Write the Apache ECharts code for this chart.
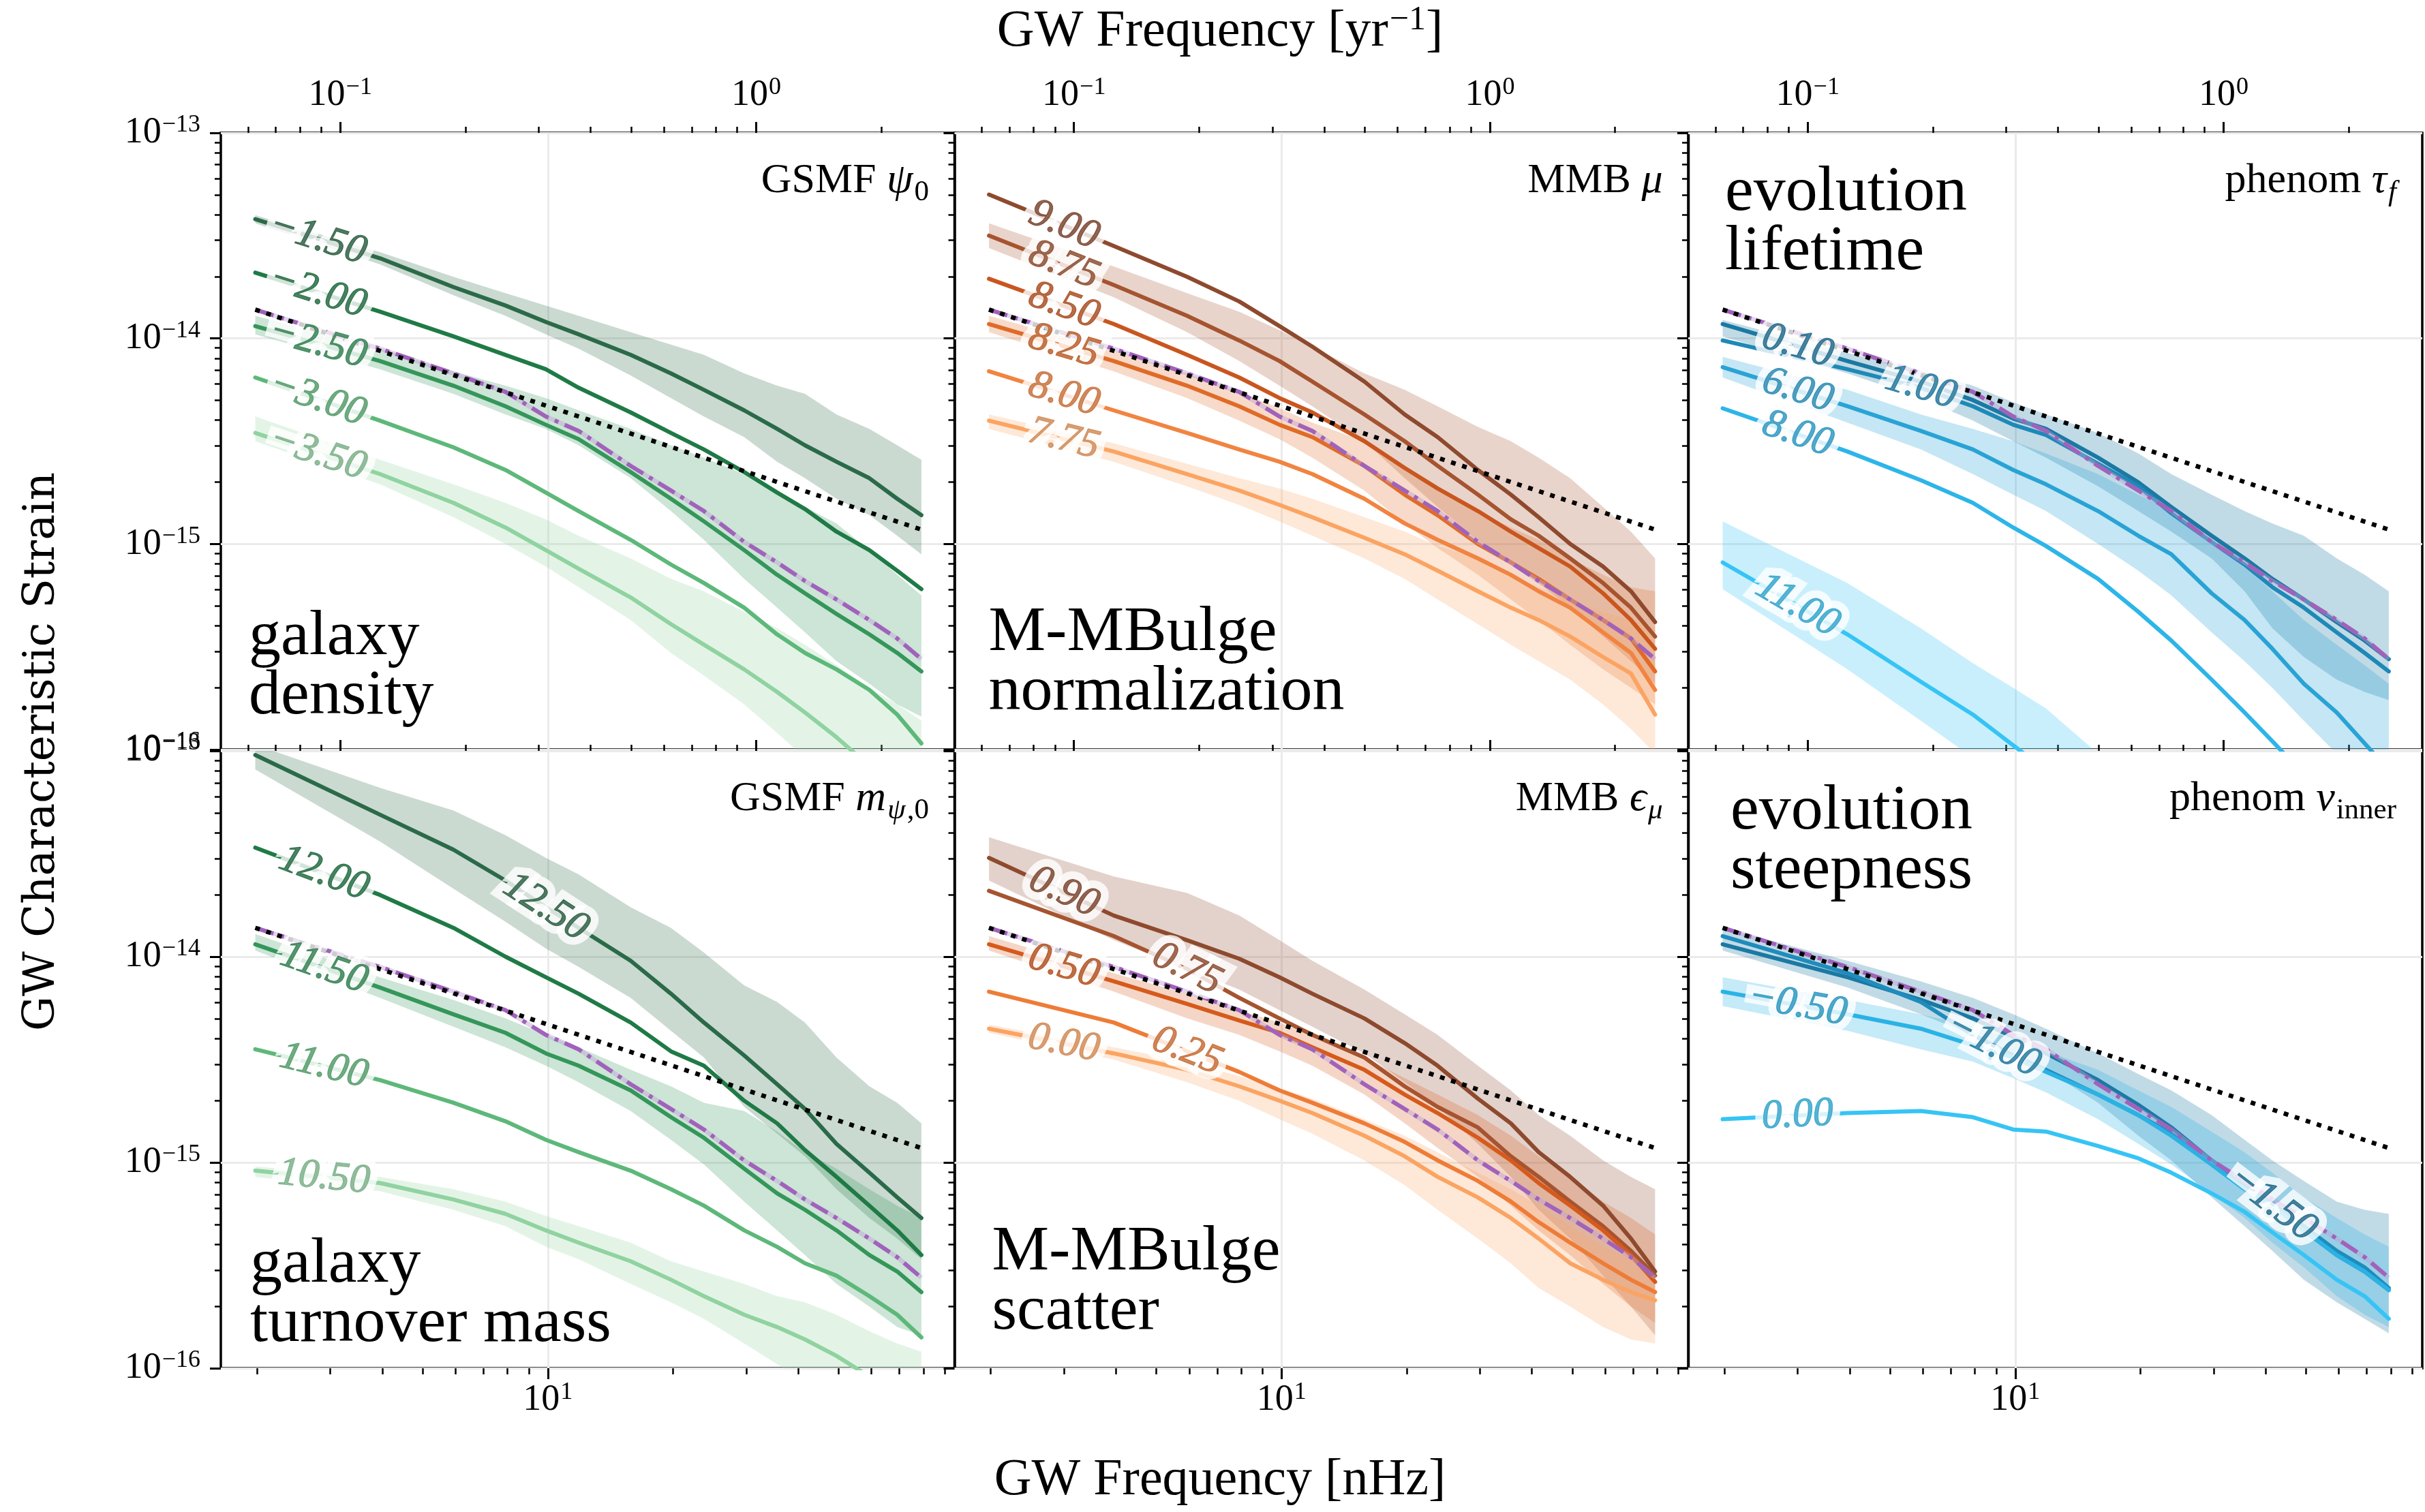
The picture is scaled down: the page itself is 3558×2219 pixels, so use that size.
<!DOCTYPE html>
<html>
<head>
<meta charset="utf-8">
<script src="https://cdn.jsdelivr.net/npm/echarts@6/dist/echarts.min.js"></script>
<style>
  html, body { margin: 0; padding: 0; background: #fff; }
  #chart { width: 3558px; height: 2219px; }
</style>
</head>
<body>
<div id="chart"></div>
<script>
// ---------------------------------------------------------------------------
// Data: GW characteristic strain spectra, sampled at PTA frequency bins (nHz).
// All strain arrays hold log10(h_c); bands are the 68% spread (LO / HI).
// ---------------------------------------------------------------------------
const FREQ = [1.98, 3.95, 5.93, 7.91, 9.89, 11.86, 15.82, 19.77, 23.73, 29.66, 35.59, 41.52, 49.43, 59.31, 69.20, 79.09];

// fiducial model (median) and the reference power law (end points)
const FIDUCIAL = [-13.86, -14.05, -14.17, -14.26, -14.38, -14.45, -14.62, -14.74, -14.84, -14.99, -15.09, -15.18, -15.27, -15.37, -15.46, -15.56];
const POWER_LAW_FREQ = [1.98, 79.09];
const POWER_LAW = [-13.86, -14.93];

// GSMF psi_0
const PSI0_M150 = [-13.42, -13.61, -13.75, -13.84, -13.92, -13.98, -14.08, -14.17, -14.25, -14.35, -14.44, -14.52, -14.60, -14.68, -14.78, -14.86];
const PSI0_M150_HI = [-13.40, -13.58, -13.70, -13.78, -13.84, -13.89, -13.97, -14.03, -14.08, -14.17, -14.23, -14.27, -14.37, -14.44, -14.52, -14.59];
const PSI0_M150_LO = [-13.44, -13.64, -13.79, -13.89, -13.98, -14.05, -14.18, -14.29, -14.38, -14.48, -14.60, -14.68, -14.78, -14.86, -14.96, -15.05];
const PSI0_M200 = [-13.68, -13.87, -13.99, -14.08, -14.15, -14.24, -14.36, -14.46, -14.54, -14.65, -14.75, -14.83, -14.94, -15.03, -15.13, -15.22];
const PSI0_M250 = [-13.94, -14.11, -14.23, -14.33, -14.42, -14.49, -14.65, -14.78, -14.89, -15.03, -15.15, -15.24, -15.34, -15.44, -15.53, -15.62];
const PSI0_M250_HI = [-13.89, -14.05, -14.16, -14.23, -14.29, -14.35, -14.44, -14.52, -14.58, -14.66, -14.74, -14.82, -14.90, -15.03, -15.15, -15.25];
const PSI0_M250_LO = [-13.98, -14.15, -14.27, -14.37, -14.44, -14.52, -14.68, -14.84, -14.98, -15.17, -15.31, -15.43, -15.57, -15.68, -15.78, -15.84];
const PSI0_M300 = [-14.19, -14.40, -14.53, -14.64, -14.75, -14.84, -14.98, -15.10, -15.19, -15.31, -15.44, -15.53, -15.61, -15.71, -15.83, -15.97];
const PSI0_M350 = [-14.46, -14.66, -14.80, -14.92, -15.03, -15.12, -15.26, -15.39, -15.49, -15.61, -15.72, -15.82, -15.94, -16.08, -16.19, -16.31];
const PSI0_M350_HI = [-14.38, -14.59, -14.71, -14.80, -14.88, -14.96, -15.07, -15.17, -15.23, -15.33, -15.41, -15.49, -15.59, -15.70, -15.78, -15.86];
const PSI0_M350_LO = [-14.50, -14.71, -14.87, -15.00, -15.11, -15.21, -15.37, -15.53, -15.64, -15.78, -15.92, -16.04, -16.17, -16.29, -16.41, -16.49];

// MMB mu
const MU_900 = [-13.30, -13.55, -13.70, -13.82, -13.94, -14.04, -14.21, -14.37, -14.48, -14.64, -14.76, -14.87, -15.00, -15.11, -15.23, -15.38];
const MU_875 = [-13.50, -13.74, -13.89, -14.01, -14.11, -14.21, -14.37, -14.50, -14.62, -14.76, -14.88, -14.96, -15.07, -15.19, -15.31, -15.45];
const MU_875_HI = [-13.44, -13.65, -13.78, -13.87, -13.96, -14.04, -14.17, -14.25, -14.33, -14.43, -14.50, -14.58, -14.68, -14.82, -14.94, -15.07];
const MU_875_LO = [-13.56, -13.80, -13.97, -14.11, -14.23, -14.33, -14.50, -14.68, -14.82, -14.98, -15.09, -15.19, -15.31, -15.45, -15.57, -15.68];
const MU_850 = [-13.71, -13.93, -14.08, -14.19, -14.29, -14.36, -14.50, -14.63, -14.73, -14.84, -14.94, -15.02, -15.11, -15.24, -15.37, -15.51];
const MU_825 = [-13.93, -14.11, -14.23, -14.33, -14.42, -14.48, -14.62, -14.76, -14.86, -15.00, -15.09, -15.17, -15.27, -15.37, -15.46, -15.62];
const MU_825_HI = [-13.89, -14.06, -14.17, -14.26, -14.34, -14.41, -14.50, -14.62, -14.72, -14.84, -14.92, -14.98, -15.07, -15.15, -15.21, -15.23];
const MU_825_LO = [-13.97, -14.16, -14.29, -14.40, -14.49, -14.58, -14.74, -14.90, -15.02, -15.15, -15.27, -15.37, -15.49, -15.61, -15.70, -15.78];
const MU_800 = [-14.16, -14.35, -14.46, -14.54, -14.60, -14.66, -14.78, -14.90, -14.98, -15.07, -15.15, -15.23, -15.31, -15.43, -15.53, -15.71];
const MU_775 = [-14.40, -14.55, -14.66, -14.74, -14.81, -14.87, -14.97, -15.05, -15.13, -15.23, -15.31, -15.37, -15.45, -15.55, -15.63, -15.83];
const MU_775_HI = [-14.37, -14.51, -14.61, -14.68, -14.73, -14.78, -14.87, -14.94, -15.01, -15.07, -15.15, -15.21, -15.27, -15.33, -15.37, -15.41];
const MU_775_LO = [-14.44, -14.60, -14.72, -14.81, -14.89, -14.96, -15.07, -15.17, -15.27, -15.39, -15.49, -15.57, -15.66, -15.78, -15.90, -16.02];

// phenom tau_f
const TAU_010 = [-13.93, -14.11, -14.21, -14.30, -14.39, -14.44, -14.58, -14.70, -14.82, -14.96, -15.07, -15.17, -15.27, -15.38, -15.47, -15.56];
const TAU_010_HI = [-13.91, -14.07, -14.16, -14.23, -14.31, -14.37, -14.46, -14.56, -14.66, -14.76, -14.84, -14.90, -14.96, -15.07, -15.15, -15.23];
const TAU_010_LO = [-13.99, -14.17, -14.29, -14.40, -14.50, -14.58, -14.72, -14.84, -14.94, -15.07, -15.23, -15.41, -15.55, -15.66, -15.72, -15.76];
const TAU_100 = [-14.01, -14.15, -14.24, -14.33, -14.42, -14.47, -14.61, -14.72, -14.85, -14.99, -15.10, -15.21, -15.31, -15.43, -15.53, -15.62];
const TAU_600 = [-14.14, -14.33, -14.45, -14.54, -14.64, -14.71, -14.84, -14.96, -15.05, -15.24, -15.37, -15.51, -15.68, -15.82, -15.97, -16.10];
const TAU_600_HI = [-14.09, -14.25, -14.37, -14.44, -14.50, -14.56, -14.66, -14.76, -14.84, -15.00, -15.11, -15.23, -15.37, -15.49, -15.59, -15.68];
const TAU_600_LO = [-14.19, -14.41, -14.54, -14.66, -14.76, -14.84, -15.00, -15.13, -15.25, -15.43, -15.57, -15.70, -15.86, -16.02, -16.14, -16.25];
const TAU_800 = [-14.34, -14.55, -14.69, -14.80, -14.92, -15.01, -15.17, -15.33, -15.47, -15.66, -15.82, -15.96, -16.12, -16.29, -16.43, -16.57];
const TAU_1100 = [-15.09, -15.44, -15.67, -15.83, -15.98, -16.10, -16.29, -16.45, -16.59, -16.74, -16.88, -17.00, -17.14, -17.28, -17.39, -17.51];
const TAU_1100_HI = [-14.89, -15.19, -15.41, -15.58, -15.70, -15.80, -16.02, -16.17, -16.31, -16.47, -16.61, -16.72, -16.86, -17.00, -17.12, -17.24];
const TAU_1100_LO = [-15.22, -15.61, -15.86, -16.04, -16.19, -16.31, -16.53, -16.69, -16.82, -16.98, -17.12, -17.24, -17.37, -17.51, -17.63, -17.75];

// GSMF m_psi,0
const MPSI_1250 = [-13.02, -13.31, -13.48, -13.63, -13.76, -13.86, -14.02, -14.18, -14.32, -14.48, -14.62, -14.74, -14.91, -15.05, -15.17, -15.27];
const MPSI_1250_HI = [-12.97, -13.18, -13.29, -13.41, -13.52, -13.60, -13.76, -13.86, -13.98, -14.14, -14.22, -14.32, -14.49, -14.63, -14.71, -14.81];
const MPSI_1250_LO = [-13.09, -13.44, -13.67, -13.83, -13.96, -14.05, -14.20, -14.36, -14.49, -14.73, -14.86, -14.97, -15.13, -15.27, -15.37, -15.47];
const MPSI_1200 = [-13.47, -13.70, -13.86, -14.00, -14.10, -14.18, -14.32, -14.46, -14.53, -14.70, -14.81, -14.94, -15.07, -15.21, -15.33, -15.45];
const MPSI_1150 = [-13.94, -14.15, -14.28, -14.37, -14.47, -14.53, -14.65, -14.78, -14.88, -15.03, -15.15, -15.23, -15.33, -15.45, -15.53, -15.63];
const MPSI_1150_HI = [-13.89, -14.10, -14.21, -14.30, -14.38, -14.44, -14.55, -14.63, -14.71, -14.75, -14.85, -14.95, -15.03, -15.13, -15.21, -15.27];
const MPSI_1150_LO = [-13.97, -14.20, -14.34, -14.44, -14.53, -14.61, -14.75, -14.89, -15.01, -15.19, -15.33, -15.45, -15.59, -15.70, -15.80, -15.84];
const MPSI_1100 = [-14.45, -14.60, -14.71, -14.80, -14.89, -14.95, -15.04, -15.13, -15.21, -15.33, -15.41, -15.49, -15.55, -15.65, -15.74, -15.85];
const MPSI_1050 = [-15.04, -15.10, -15.18, -15.25, -15.33, -15.39, -15.48, -15.57, -15.65, -15.74, -15.80, -15.86, -15.94, -16.04, -16.12, -16.20];
const MPSI_1050_HI = [-15.02, -15.07, -15.13, -15.19, -15.26, -15.31, -15.39, -15.48, -15.53, -15.59, -15.65, -15.68, -15.74, -15.82, -15.88, -15.92];
const MPSI_1050_LO = [-15.07, -15.14, -15.23, -15.31, -15.41, -15.47, -15.59, -15.68, -15.76, -15.88, -15.98, -16.06, -16.14, -16.26, -16.34, -16.42];

// MMB epsilon_mu
const EPS_090 = [-13.52, -13.80, -13.92, -14.01, -14.10, -14.18, -14.30, -14.42, -14.53, -14.69, -14.81, -14.95, -15.07, -15.21, -15.37, -15.53];
const EPS_090_HI = [-13.42, -13.61, -13.69, -13.80, -13.92, -14.02, -14.16, -14.28, -14.38, -14.53, -14.65, -14.77, -14.87, -14.99, -15.07, -15.13];
const EPS_090_LO = [-13.63, -13.92, -14.06, -14.16, -14.26, -14.34, -14.47, -14.61, -14.73, -14.91, -15.07, -15.23, -15.37, -15.55, -15.70, -15.84];
const EPS_075 = [-13.68, -13.90, -14.06, -14.20, -14.30, -14.38, -14.49, -14.63, -14.73, -14.83, -14.97, -15.07, -15.19, -15.31, -15.43, -15.55];
const EPS_050 = [-13.94, -14.12, -14.23, -14.31, -14.37, -14.44, -14.55, -14.67, -14.76, -14.88, -14.99, -15.10, -15.21, -15.33, -15.45, -15.58];
const EPS_050_HI = [-13.90, -14.08, -14.18, -14.26, -14.32, -14.38, -14.49, -14.59, -14.67, -14.77, -14.87, -14.97, -15.07, -15.19, -15.27, -15.35];
const EPS_050_LO = [-13.97, -14.17, -14.30, -14.38, -14.46, -14.53, -14.67, -14.81, -14.93, -15.07, -15.21, -15.33, -15.45, -15.59, -15.70, -15.78];
const EPS_025 = [-14.17, -14.32, -14.46, -14.56, -14.65, -14.71, -14.81, -14.90, -14.99, -15.09, -15.19, -15.29, -15.39, -15.49, -15.57, -15.63];
const EPS_000 = [-14.35, -14.47, -14.55, -14.63, -14.70, -14.76, -14.87, -14.97, -15.07, -15.17, -15.27, -15.37, -15.49, -15.57, -15.63, -15.67];
const EPS_000_HI = [-14.33, -14.44, -14.51, -14.58, -14.64, -14.69, -14.79, -14.87, -14.95, -15.05, -15.13, -15.21, -15.31, -15.41, -15.47, -15.49];
const EPS_000_LO = [-14.37, -14.50, -14.61, -14.70, -14.79, -14.86, -14.99, -15.11, -15.23, -15.37, -15.49, -15.61, -15.70, -15.80, -15.86, -15.88];

// phenom nu_inner
const NU_M150 = [-13.94, -14.10, -14.21, -14.30, -14.39, -14.47, -14.60, -14.72, -14.83, -14.99, -15.11, -15.20, -15.33, -15.45, -15.53, -15.62];
const NU_M150_HI = [-13.86, -14.02, -14.12, -14.20, -14.28, -14.35, -14.47, -14.57, -14.65, -14.77, -14.89, -14.99, -15.09, -15.19, -15.23, -15.25];
const NU_M150_LO = [-13.97, -14.15, -14.28, -14.38, -14.47, -14.55, -14.71, -14.87, -14.99, -15.17, -15.31, -15.43, -15.57, -15.68, -15.76, -15.83];
const NU_M100 = [-13.90, -14.08, -14.22, -14.38, -14.48, -14.55, -14.67, -14.77, -14.86, -14.99, -15.10, -15.20, -15.31, -15.43, -15.51, -15.61];
const NU_M050 = [-14.17, -14.28, -14.35, -14.43, -14.49, -14.56, -14.67, -14.77, -14.87, -15.01, -15.13, -15.21, -15.33, -15.45, -15.53, -15.62];
const NU_M050_HI = [-14.10, -14.21, -14.28, -14.34, -14.40, -14.46, -14.55, -14.65, -14.73, -14.85, -14.95, -15.05, -15.17, -15.27, -15.35, -15.41];
const NU_M050_LO = [-14.24, -14.36, -14.45, -14.51, -14.59, -14.66, -14.79, -14.91, -15.01, -15.15, -15.27, -15.39, -15.51, -15.65, -15.74, -15.80];
const NU_000 = [-14.79, -14.76, -14.75, -14.78, -14.84, -14.85, -14.92, -14.98, -15.05, -15.15, -15.24, -15.34, -15.45, -15.57, -15.65, -15.76];

// axis extents and tick positions
const X_MIN = 1.636, X_MAX = 95.2;          // nHz
const NHZ_PER_YR = 31.69;                    // 1 / yr expressed in nHz
const Y_MIN = 1e-16, Y_MAX = 1e-13;
const X_MAJOR = [10];
const X_MINOR = [2, 3, 4, 5, 6, 7, 8, 9, 20, 30, 40, 50, 60, 70, 80, 90];
const YR_MAJOR = [0.1, 1];
const YR_MINOR = [0.06, 0.07, 0.08, 0.09, 0.2, 0.3, 0.4, 0.5, 0.6, 0.7, 0.8, 0.9, 2];
const Y_MAJOR = [1e-16, 1e-15, 1e-14, 1e-13];
const Y_MINOR = [];
[-16, -15, -14].forEach(e => { for (let m = 2; m <= 9; m++) Y_MINOR.push(m * Math.pow(10, e)); });

// ---------------------------------------------------------------------------
// Styling and layout
// ---------------------------------------------------------------------------
const SERIF = "'Liberation Serif', 'DejaVu Serif', serif";
const GREENS = ['#2b6a48', '#1f7a45', '#35965a', '#5db879', '#90d3a0'];
const BROWNS = ['#8e4a2e', '#a65430', '#c9561f', '#e06b27', '#f18441', '#fba462'];
const ORANGES = ['#8e4a2e', '#a65430', '#d65a1c', '#ee7c37', '#fba462'];
const BLUES = ['#1b79a3', '#1e89b8', '#29a3d5', '#2db5e8', '#36c4f5'];
const NU_BLUES = ['#1b79a3', '#1e8cbd', '#2ab2e4', '#36c4f5'];

const GRID_X = [324, 1400.5, 2477];
const GRID_W = 1077;
const ROW_Y = [195, 1102];
const ROW_H = [905, 906];

function rgba(hex, a) {
  const n = parseInt(hex.slice(1), 16);
  return 'rgba(' + (n >> 16 & 255) + ',' + (n >> 8 & 255) + ',' + (n & 255) + ',' + a + ')';
}
// slightly deeper tone for the inline label text
function deepen(hex, f) {
  const n = parseInt(hex.slice(1), 16);
  const ch = s => Math.round((n >> s & 255) * f);
  return 'rgb(' + ch(16) + ',' + ch(8) + ',' + ch(0) + ')';
}

const PANELS = [
  { tag: '{r|GSMF }{i|ψ}{sub|0}', name: ['galaxy', 'density'], namePos: [41, 770], alpha: 0.25, curves: [
    { text: '−1.50', med: PSI0_M150, lo: PSI0_M150_LO, hi: PSI0_M150_HI, color: GREENS[0], at: 0.5 },
    { text: '−2.00', med: PSI0_M200, color: GREENS[1], at: 0.5 },
    { text: '−2.50', med: PSI0_M250, lo: PSI0_M250_LO, hi: PSI0_M250_HI, color: GREENS[2], at: 0.5 },
    { text: '−3.00', med: PSI0_M300, color: GREENS[3], at: 0.5 },
    { text: '−3.50', med: PSI0_M350, lo: PSI0_M350_LO, hi: PSI0_M350_HI, color: GREENS[4], at: 0.5 }
  ] },
  { tag: '{r|MMB }{i|μ}', name: ['M-MBulge', 'normalization'], namePos: [50, 764], alpha: 0.25, curves: [
    { text: '9.00', med: MU_900, color: BROWNS[0], at: 0.6 },
    { text: '8.75', med: MU_875, lo: MU_875_LO, hi: MU_875_HI, color: BROWNS[1], at: 0.6 },
    { text: '8.50', med: MU_850, color: BROWNS[2], at: 0.6 },
    { text: '8.25', med: MU_825, lo: MU_825_LO, hi: MU_825_HI, color: BROWNS[3], at: 0.6 },
    { text: '8.00', med: MU_800, color: BROWNS[4], at: 0.6 },
    { text: '7.75', med: MU_775, lo: MU_775_LO, hi: MU_775_HI, color: BROWNS[5], at: 0.6 }
  ] },
  { tag: '{r|phenom }{i|τ}{subi|f}', name: ['evolution', 'lifetime'], namePos: [54, 118], alpha: 0.27, curves: [
    { text: '0.10', med: TAU_010, lo: TAU_010_LO, hi: TAU_010_HI, color: BLUES[0], at: 0.6 },
    { text: '1.00', med: TAU_100, color: BLUES[1], at: 2 },
    { text: '6.00', med: TAU_600, lo: TAU_600_LO, hi: TAU_600_HI, color: BLUES[2], at: 0.6 },
    { text: '8.00', med: TAU_800, color: BLUES[3], at: 0.6 },
    { text: '11.00', med: TAU_1100, lo: TAU_1100_LO, hi: TAU_1100_HI, color: BLUES[4], at: 0.6 }
  ] },
  { tag: '{r|GSMF }{i|m}{subi|ψ}{sub|,0}', name: ['galaxy', 'turnover mass'], namePos: [43, 784], alpha: 0.25, curves: [
    { text: '12.50', med: MPSI_1250, lo: MPSI_1250_LO, hi: MPSI_1250_HI, color: GREENS[0], at: 4 },
    { text: '12.00', med: MPSI_1200, color: GREENS[1], at: 0.55 },
    { text: '11.50', med: MPSI_1150, lo: MPSI_1150_LO, hi: MPSI_1150_HI, color: GREENS[2], at: 0.55 },
    { text: '11.00', med: MPSI_1100, color: GREENS[3], at: 0.55 },
    { text: '10.50', med: MPSI_1050, lo: MPSI_1050_LO, hi: MPSI_1050_HI, color: GREENS[4], at: 0.55 }
  ] },
  { tag: '{r|MMB }{i|ϵ}{subi|μ}', name: ['M-MBulge', 'scatter'], namePos: [55, 766], alpha: 0.25, curves: [
    { text: '0.90', med: EPS_090, lo: EPS_090_LO, hi: EPS_090_HI, color: ORANGES[0], at: 0.6 },
    { text: '0.75', med: EPS_075, color: ORANGES[1], at: 2 },
    { text: '0.50', med: EPS_050, lo: EPS_050_LO, hi: EPS_050_HI, color: ORANGES[2], at: 0.6 },
    { text: '0.25', med: EPS_025, color: ORANGES[3], at: 2 },
    { text: '0.00', med: EPS_000, lo: EPS_000_LO, hi: EPS_000_HI, color: ORANGES[4], at: 0.6 }
  ] },
  { tag: '{r|phenom }{i|ν}{sub|inner}', name: ['evolution', 'steepness'], namePos: [62, 119], alpha: 0.27, curves: [
    { text: '−1.50', med: NU_M150, lo: NU_M150_LO, hi: NU_M150_HI, color: NU_BLUES[0], at: 11 },
    { text: '−1.00', med: NU_M100, color: NU_BLUES[1], at: 3.5 },
    { text: '−0.50', med: NU_M050, lo: NU_M050_LO, hi: NU_M050_HI, color: NU_BLUES[2], at: 0.6 },
    { text: '0.00', med: NU_000, color: NU_BLUES[3], at: 0.6 }
  ] }
];

// ---------------------------------------------------------------------------
// Option assembly
// ---------------------------------------------------------------------------
const TICK_RICH = {
  b: { fontFamily: SERIF, fontSize: 54, lineHeight: 58, color: '#000' },
  s: { fontFamily: SERIF, fontSize: 36, lineHeight: 36, padding: [0, 0, 22, 1], color: '#000' }
};
function powLabel(v) {
  const e = Math.round(Math.log10(v));
  return '{b|10}{s|' + (e < 0 ? '−' + (-e) : String(e)) + '}';
}
const TAG_RICH = {
  r: { fontFamily: SERIF, fontSize: 62, lineHeight: 70, color: '#000' },
  i: { fontFamily: SERIF, fontStyle: 'italic', fontSize: 62, lineHeight: 70, color: '#000' },
  sub: { fontFamily: SERIF, fontSize: 43, lineHeight: 43, padding: [34, 0, 0, 2], color: '#000' },
  subi: { fontFamily: SERIF, fontStyle: 'italic', fontSize: 43, lineHeight: 43, padding: [34, 0, 0, 2], color: '#000' }
};
const GRID_LINE = { color: '#ebebeb', width: 3 };
const LABEL_FONT = { fontFamily: SERIF, fontStyle: 'italic', fontSize: 60 };

const grids = [], xAxes = [], yAxes = [], series = [], graphics = [];
const panelAxes = [];

function tickAxis(base, values, len, width) {
  return Object.assign({
    axisLine: { show: false, onZero: false },
    axisTick: { show: true, customValues: values, length: len, inside: false, lineStyle: { color: '#000', width: width } },
    axisLabel: { show: false },
    splitLine: { show: false },
    minorTick: { show: false },
    minorSplitLine: { show: false },
    axisPointer: { show: false }
  }, base);
}

function labelAnchor(c) {
  const i = Math.min(Math.floor(c.at), FREQ.length - 2);
  const t = c.at - i;
  const lf = Math.log10(FREQ[i]) * (1 - t) + Math.log10(FREQ[i + 1]) * t;
  const ly = c.med[i] * (1 - t) + c.med[i + 1] * t;
  return [Math.pow(10, lf), Math.pow(10, ly)];
}
// white halo layer beneath, coloured text layer above
function haloItem(c, rotate) {
  return {
    value: labelAnchor(c),
    label: Object.assign({
      show: true, position: 'inside', formatter: c.text, rotate: rotate,
      color: '#fff', textBorderColor: '#fff', textBorderWidth: 24
    }, LABEL_FONT)
  };
}
function textItem(c, rotate) {
  const col = deepen(c.color, 0.82);
  return {
    value: labelAnchor(c),
    label: Object.assign({
      show: true, position: 'inside', formatter: c.text, rotate: rotate,
      color: col, textBorderColor: col, textBorderWidth: 1.2
    }, LABEL_FONT)
  };
}

PANELS.forEach((panel, k) => {
  const row = k < 3 ? 0 : 1;
  const col = k % 3;
  grids.push({
    left: GRID_X[col], top: ROW_Y[row], width: GRID_W, height: ROW_H[row],
    show: true, borderColor: '#000', borderWidth: 3.5, backgroundColor: 'transparent'
  });

  const xi = xAxes.length;
  // bottom frequency axis (nHz)
  const xMain = tickAxis({ type: 'log', gridIndex: k, position: 'bottom', min: X_MIN, max: X_MAX }, X_MAJOR, 16, 3);
  xMain.axisTick.show = row === 1;
  xMain.axisLabel = { show: row === 1, customValues: X_MAJOR, margin: 18, formatter: powLabel, rich: TICK_RICH };
  xMain.splitLine = { show: true, lineStyle: GRID_LINE };
  xAxes.push(xMain);
  const xMinor = tickAxis({ type: 'log', gridIndex: k, position: 'bottom', min: X_MIN, max: X_MAX }, X_MINOR, 9, 2.5);
  xMinor.axisTick.show = row === 1;
  xAxes.push(xMinor);
  // top frequency axis (1/yr)
  const yrMain = tickAxis({ type: 'log', gridIndex: k, position: 'top', min: X_MIN / NHZ_PER_YR, max: X_MAX / NHZ_PER_YR }, YR_MAJOR, 16, 3);
  yrMain.axisLabel = { show: row === 0, customValues: YR_MAJOR, margin: 26, formatter: powLabel, rich: TICK_RICH };
  xAxes.push(yrMain);
  xAxes.push(tickAxis({ type: 'log', gridIndex: k, position: 'top', min: X_MIN / NHZ_PER_YR, max: X_MAX / NHZ_PER_YR }, YR_MINOR, 9, 2.5));

  const yi = yAxes.length;
  const yMain = tickAxis({ type: 'log', gridIndex: k, position: 'left', min: Y_MIN, max: Y_MAX }, Y_MAJOR, 16, 3);
  yMain.axisLabel = { show: col === 0, customValues: Y_MAJOR, margin: 30, formatter: powLabel, rich: TICK_RICH };
  yMain.splitLine = { show: true, lineStyle: GRID_LINE };
  yAxes.push(yMain);
  yAxes.push(tickAxis({ type: 'log', gridIndex: k, position: 'left', min: Y_MIN, max: Y_MAX }, Y_MINOR, 9, 2.5));

  panelAxes.push({ xi, yi });
  const axisRef = { xAxisIndex: xi, yAxisIndex: yi };
  const toPoints = arr => FREQ.map((f, i) => [f, Math.pow(10, arr[i])]);

  // uncertainty bands
  panel.curves.forEach(c => {
    if (!c.hi) return;
    series.push(Object.assign({
      type: 'custom', z: 1, silent: true, clip: true,
      data: [[FREQ[0], Math.pow(10, c.hi[0])]],
      renderItem: (params, api) => {
        const upper = FREQ.map((f, i) => api.coord([f, Math.pow(10, c.hi[i])]));
        const lower = FREQ.map((f, i) => api.coord([f, Math.pow(10, c.lo[i])])).reverse();
        const cs = params.coordSys;
        return {
          type: 'group',
          clipPath: { type: 'rect', shape: { x: cs.x, y: cs.y, width: cs.width, height: cs.height } },
          children: [{ type: 'polygon', shape: { points: upper.concat(lower) }, style: { fill: rgba(c.color, panel.alpha) } }]
        };
      }
    }, axisRef));
  });
  // median spectra
  panel.curves.forEach(c => {
    series.push(Object.assign({
      type: 'line', z: 2, silent: true, symbol: 'none', clip: true,
      data: toPoints(c.med),
      lineStyle: { color: c.color, width: 6, cap: 'round', join: 'round' }
    }, axisRef));
  });
  // fiducial model: pale underlay plus dash-dot line
  series.push(Object.assign({
    type: 'line', z: 3, silent: true, symbol: 'none', clip: true, data: toPoints(FIDUCIAL),
    lineStyle: { color: 'rgba(190,160,215,0.45)', width: 6.5 }
  }, axisRef));
  series.push(Object.assign({
    type: 'line', z: 3, silent: true, symbol: 'none', clip: true, data: toPoints(FIDUCIAL),
    lineStyle: { color: '#a062bb', width: 6, type: [28, 10, 6, 10], cap: 'butt' }
  }, axisRef));
  // reference power law
  series.push(Object.assign({
    type: 'line', z: 4, silent: true, symbol: 'none', clip: true,
    data: POWER_LAW_FREQ.map((f, i) => [f, Math.pow(10, POWER_LAW[i])]),
    lineStyle: { color: '#000', width: 6.5, type: [7, 10], cap: 'butt' }
  }, axisRef));
  // inline parameter labels on their own canvas layer (rotation filled in after layout)
  series.push(Object.assign({
    id: 'halo-' + k, type: 'scatter', zlevel: 1, z: 5, silent: true, symbolSize: 2,
    itemStyle: { color: 'rgba(0,0,0,0)' },
    data: panel.curves.map(c => haloItem(c, 0))
  }, axisRef));
  series.push(Object.assign({
    id: 'labels-' + k, type: 'scatter', zlevel: 2, z: 6, silent: true, symbolSize: 2,
    itemStyle: { color: 'rgba(0,0,0,0)' },
    data: panel.curves.map(c => textItem(c, 0))
  }, axisRef));

  // panel annotations
  const left = GRID_X[col], top = ROW_Y[row], right = left + GRID_W;
  graphics.push({
    type: 'text', x: right - 38, y: top + 71, silent: true, z: 10,
    style: { text: panel.tag, rich: TAG_RICH, align: 'right', textAlign: 'right', verticalAlign: 'middle', textVerticalAlign: 'middle' }
  });
  panel.name.forEach((line, j) => {
    graphics.push({
      type: 'text', x: left + panel.namePos[0], y: top + panel.namePos[1] + j * 87 - 30, silent: true, z: 10,
      style: { text: line, fontFamily: SERIF, fontSize: 94, fill: '#000', align: 'left', textAlign: 'left', verticalAlign: 'middle', textVerticalAlign: 'middle' }
    });
  });
});

// axis titles
graphics.push({
  type: 'text', x: 1790, y: 47, silent: true,
  style: {
    text: '{r|GW Frequency [yr}{s|−1}{r|]}', align: 'center', textAlign: 'center', verticalAlign: 'middle', textVerticalAlign: 'middle',
    rich: {
      r: { fontFamily: SERIF, fontSize: 76, lineHeight: 84, color: '#000' },
      s: { fontFamily: SERIF, fontSize: 50, lineHeight: 50, padding: [0, 0, 34, 2], color: '#000' }
    }
  }
});
graphics.push({
  type: 'text', x: 1790, y: 2173, silent: true,
  style: { text: 'GW Frequency [nHz]', fontFamily: SERIF, fontSize: 76, fill: '#000', align: 'center', textAlign: 'center', verticalAlign: 'middle', textVerticalAlign: 'middle' }
});
graphics.push({
  type: 'text', x: 62, y: 1103, rotation: Math.PI / 2, silent: true,
  style: { text: 'GW Characteristic Strain', fontFamily: "'DejaVu Serif', serif", fontSize: 64, fill: '#000', align: 'center', textAlign: 'center', verticalAlign: 'middle', textVerticalAlign: 'middle' }
});

const chart = echarts.init(document.getElementById('chart'), null, { renderer: 'canvas' });
chart.setOption({
  animation: false,
  backgroundColor: '#fff',
  grid: grids,
  xAxis: xAxes,
  yAxis: yAxes,
  series: series,
  graphic: graphics
});

// align each inline label with the local slope of its curve
const labelUpdates = [];
PANELS.forEach((panel, k) => {
  const ref = { xAxisIndex: panelAxes[k].xi, yAxisIndex: panelAxes[k].yi };
  const angles = panel.curves.map(c => {
    let a = Math.floor(c.at), b = a + 1;
    if (c.at === a && a > 0) { a = a - 1; }
    b = Math.min(b, FREQ.length - 1);
    const p1 = chart.convertToPixel(ref, [FREQ[a], Math.pow(10, c.med[a])]);
    const p2 = chart.convertToPixel(ref, [FREQ[b], Math.pow(10, c.med[b])]);
    return -Math.atan2(p2[1] - p1[1], p2[0] - p1[0]) * 180 / Math.PI;
  });
  labelUpdates.push({ id: 'halo-' + k, data: panel.curves.map((c, j) => haloItem(c, angles[j])) });
  labelUpdates.push({ id: 'labels-' + k, data: panel.curves.map((c, j) => textItem(c, angles[j])) });
});
chart.setOption({ series: labelUpdates });
</script>
</body>
</html>
